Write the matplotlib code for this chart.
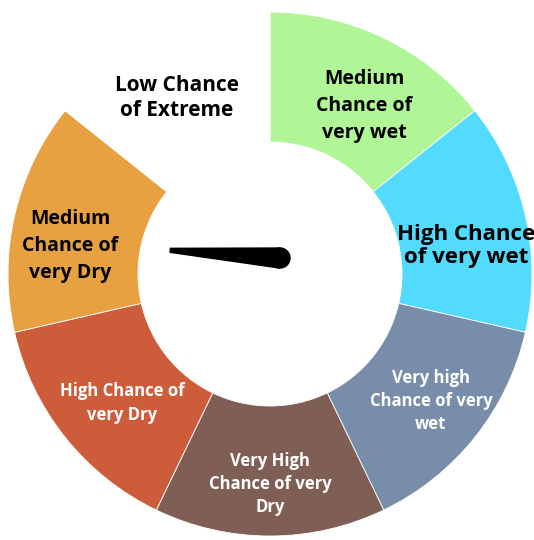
import matplotlib.pyplot as plt
from matplotlib.patches import Polygon, Circle
import numpy as np

# ----------------------------------------------------------------------
# Data
# ----------------------------------------------------------------------
categories = [
    "Medium\nChance of\nvery wet",
    "High Chance\nof very wet",
    "Very high\nChance of very\nwet",
    "Very High\nChance of very\nDry",
    "High Chance of\nvery Dry",
    "Medium\nChance of\nvery Dry",
    "Low Chance\nof Extreme",
]
shares = [1, 1, 1, 1, 1, 1, 1]
colors = ["#b0f596", "#52dbff", "#788da9", "#7e5e55", "#cd5c3a", "#e8a141", "#ffffff"]
text_colors = ["black", "black", "white", "white", "white", "black", "black"]
needle_angle = 176.0  # degrees, 0 = pointing right

# ----------------------------------------------------------------------
# Layout (pixels in a 534x540 canvas)
# ----------------------------------------------------------------------
W, H = 534, 540
CX, CY, R = 270, 274, 262
HOLE = 132
label_px = [(364, 106), (466, 246), (431, 401), (270, 484), (122, 403), (70, 246), (177, 98)]
label_size = [14, 16, 12, 12, 12, 14, 15]
label_spacing = [1.45, 1.17, 1.38, 1.38, 1.5, 1.45, 1.2]


def px(x, y):
    return (x - CX) / R, (CY - y) / R


fig = plt.figure(figsize=(W / 100, H / 100), dpi=100)
ax = fig.add_axes([0, 0, 1, 1])

ax.pie(
    shares,
    colors=colors,
    startangle=90,
    counterclock=False,
    radius=1,
    wedgeprops=dict(width=1 - HOLE / R, edgecolor="white", linewidth=0.6),
)
ax.set_xlim(-CX / R, (W - CX) / R)
ax.set_ylim(-(H - CY) / R, CY / R)
ax.axis("off")

for lab, (x, y), c, s, ls in zip(categories, label_px, text_colors, label_size, label_spacing):
    ax.text(*px(x, y), lab, ha="center", va="center", color=c, fontsize=s,
            fontweight="bold", family="Open Sans", linespacing=ls)

# needle
bx, by = px(280, 258)
L = 110 / R
a = np.deg2rad(needle_angle)
d = np.array([np.cos(a), np.sin(a)])
n = np.array([-d[1], d[0]])
rb = 10 / R
rt = 2 / R
base = np.array([bx, by])
tip = base + d * L
poly = [base + n * rb, tip + n * rt, tip - n * rt, base - n * rb]
ax.add_patch(Polygon(poly, closed=True, color="black", zorder=5))
ax.add_patch(Circle(base, rb, color="black", zorder=5))

plt.savefig("out.png", dpi=100)
